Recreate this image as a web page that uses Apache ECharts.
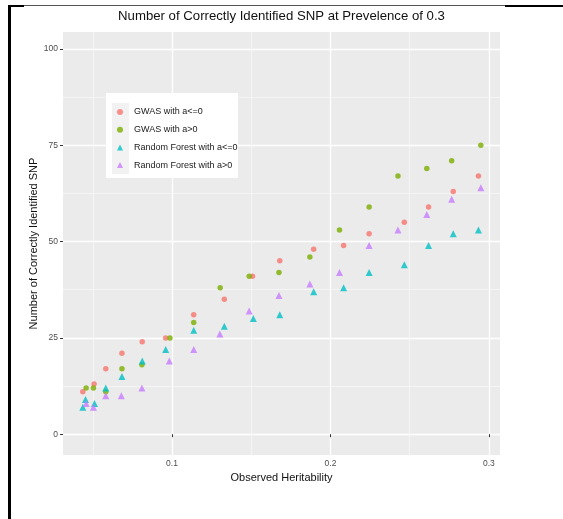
<!DOCTYPE html>
<html>
<head>
<meta charset="utf-8">
<script src="https://cdn.jsdelivr.net/npm/echarts@6/dist/echarts.min.js"></script>
<style>
  html, body { margin: 0; padding: 0; background: #fff; }
  #chart { width: 563px; height: 519px; }
</style>
</head>
<body>
<div id="chart"></div>
<script>
// heritability (x) and number of SNP (y) per group
var gwasNegX = [0.0437, 0.0508, 0.0582, 0.0684, 0.0812, 0.096, 0.1137, 0.133, 0.1508, 0.168, 0.1894, 0.2083, 0.2244, 0.2466, 0.2619, 0.2775, 0.2934]
var gwasNegY = [11, 13, 17, 21, 24, 25, 31, 35, 41, 45, 48, 49, 52, 55, 59, 63, 67]
var gwasPosX = [0.0458, 0.0504, 0.0582, 0.0684, 0.081, 0.0987, 0.1137, 0.1304, 0.1487, 0.1675, 0.187, 0.2057, 0.2244, 0.2426, 0.2608, 0.2765, 0.2949]
var gwasPosY = [12, 12, 11, 17, 18, 25, 29, 38, 41, 42, 46, 53, 59, 67, 69, 71, 75]
var rfNegX = [0.0437, 0.0454, 0.0511, 0.0582, 0.0684, 0.0812, 0.096, 0.1137, 0.133, 0.1513, 0.168, 0.1894, 0.2083, 0.2244, 0.2466, 0.2619, 0.2775, 0.2934]
var rfNegY = [7, 9, 8, 12, 15, 19, 22, 27, 28, 30, 31, 37, 38, 42, 44, 49, 52, 53]
var rfPosX = [0.0458, 0.0504, 0.0582, 0.068, 0.081, 0.0983, 0.1137, 0.1302, 0.1487, 0.1675, 0.187, 0.2057, 0.2244, 0.2426, 0.2608, 0.2765, 0.2949]
var rfPosY = [8, 7, 10, 10, 12, 19, 22, 26, 32, 36, 39, 42, 49, 53, 57, 61, 64]

var seriesNames = ['GWAS with a<=0', 'GWAS with a>0', 'Random Forest with a<=0', 'Random Forest with a>0']
var colors = ['#F8766D', '#7CAE00', '#00BFC4', '#C77CFF']

var xTicks = [0.1, 0.2, 0.3]
var xMinor = [0.05, 0.15, 0.25]
var yTicks = [0, 25, 50, 75, 100]
var yMinor = [12.5, 37.5, 62.5, 87.5]

function pairs (xs, ys) {
  var out = []
  for (var i = 0; i < xs.length; i++) {
    out.push([xs[i], ys[i]])
  }
  return out
}

var font = 'Liberation Sans, Arial, sans-serif'
var myChart = echarts.init(document.getElementById('chart'))

var xRange = { min: 0.0312, max: 0.307 }
var yRange = { min: -5.4, max: 104.4 }

var option = {
  animation: false,
  color: colors,
  title: {
    text: 'Number of Correctly Identified SNP at Prevelence of 0.3',
    left: 'center',
    top: 5,
    textStyle: { fontFamily: font, fontSize: 13.2, fontWeight: 'normal', color: '#111' }
  },
  graphic: [
    // page border bits
    { type: 'rect', shape: { x: 8, y: 5, width: 3, height: 514 }, style: { fill: '#000' } },
    { type: 'rect', shape: { x: 8, y: 5, width: 16, height: 2 }, style: { fill: '#000' } },
    { type: 'line', shape: { x1: 24, y1: 5.5, x2: 505, y2: 5.5 }, style: { stroke: '#555', lineWidth: 1 } },
    { type: 'rect', shape: { x: 505, y: 5, width: 58, height: 2 }, style: { fill: '#000' } },
    // legend box and key column
    { type: 'rect', z: 5, shape: { x: 106, y: 93, width: 132, height: 85 }, style: { fill: '#fff' } },
    { type: 'rect', z: 5, shape: { x: 112, y: 103, width: 17, height: 71 }, style: { fill: '#F2F2F2' } }
  ],
  legend: {
    orient: 'vertical',
    left: 117,
    top: 106,
    z: 10,
    padding: 0,
    itemWidth: 6,
    itemHeight: 6,
    itemGap: 5.7,
    textStyle: { fontFamily: font, fontSize: 9, color: '#1a1a1a', lineHeight: 12, padding: [0, 0, 0, 6] },
    data: [
      { name: seriesNames[0], icon: 'circle' },
      { name: seriesNames[1], icon: 'circle' },
      { name: seriesNames[2], icon: 'triangle' },
      { name: seriesNames[3], icon: 'triangle' }
    ]
  },
  grid: {
    left: 63,
    right: 63,
    top: 32,
    bottom: 64,
    show: true,
    backgroundColor: '#EBEBEB',
    borderWidth: 0
  },
  xAxis: [{
    type: 'value',
    min: xRange.min,
    max: xRange.max,
    name: 'Observed Heritability',
    nameLocation: 'middle',
    nameGap: 16,
    nameTextStyle: { fontFamily: font, fontSize: 11, color: '#111' },
    axisLine: { show: false },
    axisTick: { show: true, length: 3, customValues: xTicks, lineStyle: { color: '#333', width: 1 } },
    axisLabel: { customValues: xTicks, fontFamily: font, fontSize: 8.5, color: '#4D4D4D', margin: 4 },
    splitLine: { show: true, lineStyle: { color: '#fff', width: 1.3 } },
    z: 2
  }, {
    type: 'value',
    min: xRange.min,
    max: xRange.max,
    axisLine: { show: false },
    axisTick: { show: false, customValues: xMinor },
    axisLabel: { show: false, customValues: xMinor },
    splitLine: { show: true, lineStyle: { color: '#F6F6F6', width: 0.9 } },
    z: 1
  }],
  yAxis: [{
    type: 'value',
    min: yRange.min,
    max: yRange.max,
    name: 'Number of Correctly Identified SNP',
    nameLocation: 'middle',
    nameGap: 24,
    nameMoveOverlap: false,
    nameRotate: 90,
    nameTextStyle: { fontFamily: font, fontSize: 11, color: '#111' },
    axisLine: { show: false },
    axisTick: { show: true, length: 3, customValues: yTicks, lineStyle: { color: '#333', width: 1 } },
    axisLabel: { customValues: yTicks, fontFamily: font, fontSize: 8.5, color: '#4D4D4D', margin: 5 },
    splitLine: { show: true, lineStyle: { color: '#fff', width: 1.3 } },
    z: 2
  }, {
    type: 'value',
    min: yRange.min,
    max: yRange.max,
    axisLine: { show: false },
    axisTick: { show: false, customValues: yMinor },
    axisLabel: { show: false, customValues: yMinor },
    splitLine: { show: true, lineStyle: { color: '#F6F6F6', width: 0.9 } },
    z: 1
  }],
  series: [
    { name: seriesNames[0], type: 'scatter', symbol: 'circle', symbolSize: 5.5, data: pairs(gwasNegX, gwasNegY) },
    { name: seriesNames[1], type: 'scatter', symbol: 'circle', symbolSize: 5.5, data: pairs(gwasPosX, gwasPosY) },
    { name: seriesNames[2], type: 'scatter', symbol: 'triangle', symbolSize: 7, data: pairs(rfNegX, rfNegY) },
    { name: seriesNames[3], type: 'scatter', symbol: 'triangle', symbolSize: 7, data: pairs(rfPosX, rfPosY) }
  ]
}
myChart.setOption(option)
</script>
</body>
</html>
